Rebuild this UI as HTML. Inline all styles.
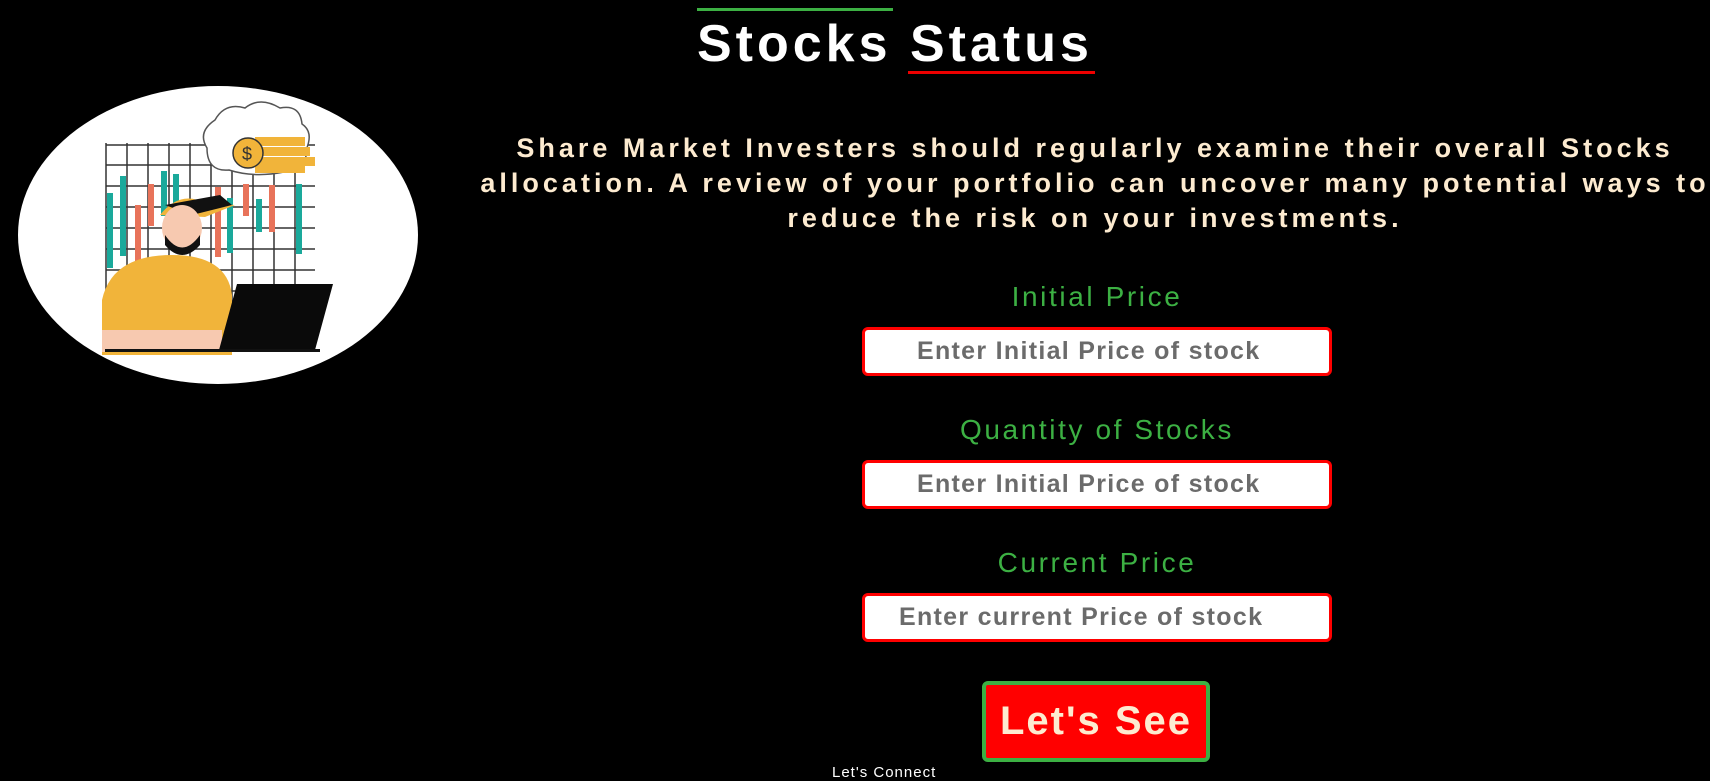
<!DOCTYPE html>
<html><head><meta charset="utf-8"><style>
html,body{margin:0;padding:0;background:#000;width:1710px;height:772px;overflow:hidden;font-family:"Liberation Sans",sans-serif}
.abs{position:absolute}
.title{top:14px;font-size:52px;font-weight:bold;color:#fff;letter-spacing:4px;white-space:nowrap}
.para{left:480px;width:1230px;text-align:center;top:131px;font-size:27px;line-height:35px;font-weight:bold;color:#fdebd0;letter-spacing:4px;white-space:nowrap}
.lbl{left:812px;width:570px;text-align:center;font-size:28px;color:#3cb043;letter-spacing:2.6px}
.inp{left:862px;width:464px;height:43px;border:3px solid #f00;border-radius:6px;background:#fff;box-sizing:content-box;font-size:25px;font-weight:bold;color:#6b6b6b;line-height:43px;letter-spacing:1.3px;white-space:nowrap}
.btn{left:982px;top:681px;width:220px;height:73px;border:4px solid #3cb043;border-radius:6px;background:#f00;color:#fdebd0;font-size:40px;font-weight:bold;text-align:center;line-height:73px;letter-spacing:2px}
</style></head><body>
<div class="abs" style="left:697px;top:8px;width:196px;height:3px;background:#3cb043"></div>
<div class="abs title" style="left:697px">Stocks Status</div>
<div class="abs" style="left:908px;top:71px;width:187px;height:3px;background:#e00"></div>

<svg class="abs" style="left:0;top:0" width="440" height="400" viewBox="0 0 440 400">
<ellipse cx="218" cy="235" rx="200" ry="149" fill="#fff"/>
<g stroke="#333" stroke-width="1.5" fill="none">
<path d="M106 145H315M106 165H315M106 186H315M106 207H315M106 228H315M106 249H315M106 270H315M106 291H315"/>
<path d="M106 143V330M127 143V330M148 143V330M169 143V330M190 143V330M211 143V330M232 143V330M253 143V330M274 143V330M295 143V330"/>
</g>
<g fill="#1aa99b">
<rect x="107" y="193" width="6" height="75"/><rect x="120" y="176" width="6" height="80"/><rect x="161" y="171" width="6" height="45"/><rect x="173" y="174" width="6" height="60"/><rect x="227" y="198" width="6" height="55"/><rect x="256" y="199" width="6" height="33"/><rect x="296" y="184" width="6" height="70"/>
</g>
<g fill="#e8735a">
<rect x="135" y="205" width="6" height="65"/><rect x="148" y="184" width="6" height="42"/><rect x="215" y="187" width="6" height="70"/><rect x="243" y="184" width="6" height="32"/><rect x="269" y="185" width="6" height="47"/>
</g>
<path d="M215 120q10-18 30-12q15-12 35 0q20-4 22 16q12 8 4 26q2 20-22 22q-30 6-55-2q-22 2-22-22q-10-16 8-28z" fill="#fff" stroke="#555" stroke-width="1.5"/>
<rect x="255" y="137" width="50" height="9" fill="#f1b43a"/><rect x="255" y="147" width="55" height="9" fill="#f1b43a"/><rect x="255" y="157" width="60" height="9" fill="#f1b43a"/><rect x="255" y="165" width="50" height="8" fill="#f1b43a"/>
<circle cx="248" cy="153" r="15" fill="#f1b43a" stroke="#333" stroke-width="1.5"/>
<text x="242" y="160" font-size="18" font-family="Liberation Sans" fill="#333">$</text>
<path d="M160 215q20-25 45-12l30 2-30 12z" fill="#f1b43a"/>
<path d="M165 205l55-10 12 10-40 10z" fill="#111"/>
<ellipse cx="182" cy="228" rx="20" ry="23" fill="#f7c9b0"/>
<path d="M165 235q17 25 35 0v10q-18 20-35 0z" fill="#111"/>
<path d="M102 300q10-45 70-45q55 0 60 40v60H102z" fill="#f1b43a"/>
<path d="M102 330h120v22H102z" fill="#f7c9b0"/>
<path d="M237 284h96l-18 66h-96z" fill="#0a0a0a"/>
<rect x="105" y="349" width="215" height="3" fill="#111"/>
</svg>

<div class="abs para">Share Market Investers should regularly examine their overall Stocks<br>allocation. A review of your portfolio can uncover many potential ways to<br>reduce the risk on your investments.</div>

<div class="abs lbl" style="top:281px">Initial Price</div>
<div class="abs inp" style="top:327px"><span style="padding-left:52px">Enter Initial Price of stock</span></div>

<div class="abs lbl" style="top:414px">Quantity of Stocks</div>
<div class="abs inp" style="top:460px"><span style="padding-left:52px">Enter Initial Price of stock</span></div>

<div class="abs lbl" style="top:547px">Current Price</div>
<div class="abs inp" style="top:593px"><span style="padding-left:34px">Enter current Price of stock</span></div>

<div class="abs btn">Let's See</div>
<div class="abs" style="left:832px;top:764px;font-size:15px;color:#fff;letter-spacing:1px">Let's Connect</div>
</body></html>
